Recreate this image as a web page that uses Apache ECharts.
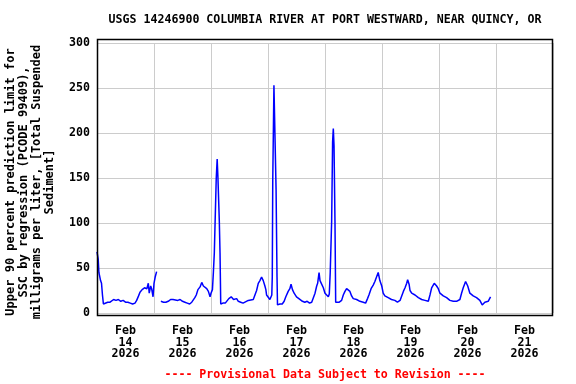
<!DOCTYPE html>
<html>
<head>
<meta charset="utf-8">
<script src="https://cdn.jsdelivr.net/npm/echarts@6/dist/echarts.min.js"></script>
<style>html,body{margin:0;padding:0;background:#fff}#c{width:576px;height:384px}</style>
</head>
<body>
<div id="c"></div>
<script>
// Hours since Feb 14 2026 00:00 (local) and SSC values (mg/L); null = data gap
const hours = [
  0.0,0.3,0.5,0.8,1.2,1.5,1.9,2.3,2.7,3.5,4.5,5.5,6.2,7,8,9,10,11,12,13,14,15,16,16.7,17.5,18.1,19,20,21,21.6,22,22.6,23,23.6,24,24.5,25.1,
  26.0,
  26.9,28,29,30,31,32,32.8,34,35,36,37,38,39,39.9,40.5,41.2,41.8,42.5,43.4,44.1,44.8,45.5,46.2,46.9,47.6,48,48.6,
  49.0,49.4,49.7,50.2,50.6,50.9,51.5,51.8,52.1,
  53,54,54.6,55.5,56.5,57.5,58.8,59.5,60.5,61.5,62.3,63.7,65.8,66.5,67.2,67.9,68.6,69.3,70,70.7,71.1,71.4,72.1,72.8,73.2,
  73.6,73.8,74.0,74.5,75.1,75.4,75.8,76.0,
  77,78,78.8,79.5,80.5,81.2,81.7,82.3,83,84,85,85.5,86.5,87.5,88.5,89.5,90.4,91.1,91.8,92.5,92.9,93.5,93.9,94.6,95.3,96,96.7,97.4,97.8,
  98.2,98.8,99.2,99.5,99.8,100.2,100.5,
  101,102,103,103.7,104.4,105.1,105.8,106.5,107.2,107.9,109.3,110.7,112.1,113.1,113.9,114.5,115.4,116.3,117,117.7,118.4,119.1,119.9,120.5,121.2,122.6,124,125.4,126.5,127.6,
  128.3,129,129.7,130.4,130.8,131.4,131.8,132.5,133.9,135.3,136.7,138.1,139.5,140.2,140.9,142,143,143.7,144.4,145.8,147.2,148.6,150,151.4,152.8,
  153.5,154.2,155.2,156.1,157,158.4,159.8,161.2,162.2,163.3,164.7,165.7
];
const ssc = [
  68,68,60,45,46,36,33,20,10,11,12,12,14,15,14,15,13,14,12,12,11,10,11,14,19,23,26,28,27,33,22,30,27,18,33,40,46,
  null,
  13,12,12,13,15,15,16,14,15,13,12,11,10,12,14,17,20,26,29,34,30,32,27,24,18,22,26,
  45,67,98,149,171,152,102,67,10,
  11,11,13,16,18,15,16,13,12,11,13,14,15,20,25,33,36,40,36,30,26,20,18,15,13,
  20,40,147,253,255,137,40,9,
  10,10,13,18,24,27,32,26,22,18,16,15,13,12,13,11,12,17,22,30,33,45,36,35,28,22,20,18,21,
  45,102,190,205,186,102,12,
  11,12,14,20,24,27,28,24,19,16,15,13,12,11,16,20,27,31,35,40,45,36,30,22,19,17,15,14,12,14,
  19,24,28,33,37,32,25,22,20,17,15,14,13,20,28,33,30,27,22,19,17,14,13,13,15,
  22,28,35,30,22,19,17,14,9,12,13,18
];
const dayLabels = ['Feb\n14\n2026','Feb\n15\n2026','Feb\n16\n2026','Feb\n17\n2026','Feb\n18\n2026','Feb\n19\n2026','Feb\n20\n2026','Feb\n21\n2026'];
const yTicks = [0, 50, 100, 150, 200, 250, 300];
const titleText = 'USGS 14246900 COLUMBIA RIVER AT PORT WESTWARD, NEAR QUINCY, OR';
const yName = 'Upper 90 percent prediction limit for\nSSC by regression (PCODE 99409),\nmilligrams per liter, [Total Suspended\nSediment]';
const footer = '---- Provisional Data Subject to Revision ----';

const FONT = '"DejaVu Sans Mono", "Liberation Mono", monospace';
const data = hours.map((h, i) => [h, ssc[i]]);

const chart = echarts.init(document.getElementById('c'), null, {renderer: 'canvas'});
chart.setOption({
  animation: false,
  backgroundColor: '#ffffff',
  grid: {left: 97, right: 23, top: 43, bottom: 71, containLabel: false},
  xAxis: [
    {
      type: 'value', min: 0, max: 192, interval: 24,
      axisLine: {show: false}, axisTick: {show: false}, axisLabel: {show: false},
      splitLine: {show: true, lineStyle: {color: '#cccccc', width: 1}}
    },
    {
      type: 'category', data: dayLabels, boundaryGap: true, position: 'bottom',
      axisLine: {show: false}, axisTick: {show: false}, splitLine: {show: false},
      axisLabel: {
        interval: 0, margin: 12, fontFamily: FONT, fontWeight: 'bold', fontSize: 11.6,
        lineHeight: 11.7, color: '#000', align: 'center'
      }
    }
  ],
  yAxis: {
    type: 'value', min: yTicks[0], max: yTicks[yTicks.length - 1], interval: 50,
    axisLine: {show: false}, axisTick: {show: false},
    axisLabel: {margin: 7, fontFamily: FONT, fontWeight: 'bold', fontSize: 11.6, color: '#000'},
    splitLine: {show: true, lineStyle: {color: '#cccccc', width: 1}}
  },
  series: [{
    type: 'line', xAxisIndex: 0, data: data, showSymbol: false, connectNulls: false,
    lineStyle: {color: '#0000ff', width: 1.5}, clip: false
  }],
  graphic: [
    {
      type: 'rect', z: 100, silent: true,
      shape: {x: 97.5, y: 39.5, width: 455, height: 276},
      style: {fill: 'none', stroke: '#000', lineWidth: 1.5}
    },
    {
      type: 'text', z: 100, x: 325, y: 20,
      style: {
        text: titleText, fontFamily: FONT, fontWeight: 'bold', fontSize: 11.6,
        fill: '#000', align: 'center', verticalAlign: 'middle'
      }
    },
    {
      type: 'text', z: 100, x: 30.5, y: 182, rotation: Math.PI / 2,
      style: {
        text: yName, fontFamily: FONT, fontWeight: 'bold', fontSize: 12, lineHeight: 12.8,
        fill: '#000', align: 'center', verticalAlign: 'middle'
      }
    },
    {
      type: 'text', z: 100, x: 325, y: 375,
      style: {
        text: footer, fontFamily: FONT, fontWeight: 'bold', fontSize: 11.6,
        fill: '#ff0000', align: 'center', verticalAlign: 'middle'
      }
    }
  ]
});
</script>
</body>
</html>
